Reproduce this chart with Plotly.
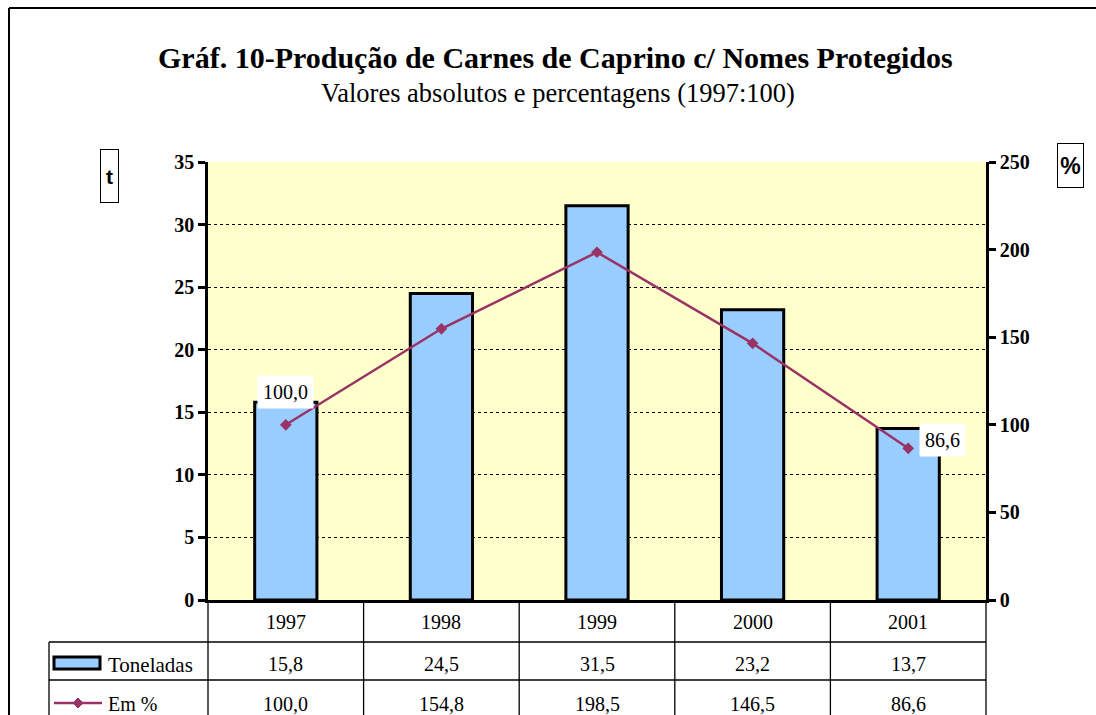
import plotly.graph_objects as go

# ---- data ----
years = ["1997", "1998", "1999", "2000", "2001"]
toneladas = [15.8, 24.5, 31.5, 23.2, 13.7]
em_pct = [100.0, 154.8, 198.5, 146.5, 86.6]
row_labels = ["Toneladas", "Em %"]
title_text = "Gráf. 10-Produção de Carnes de Caprino c/ Nomes Protegidos"
subtitle_text = "Valores absolutos e percentagens (1997:100)"

W, H = 1096, 715
BAR_C = "#99CCFF"
LINE_C = "#993366"
SERIF = "Liberation Serif, Times New Roman, serif"
SANS = "Liberation Sans, Arial, sans-serif"


def fmt(v):
    return f"{v:.1f}".replace(".", ",")


def px(x):
    return x / W


def py(y):
    return 1 - y / H


# plot area pixels
PL, PR, PT, PB = 208, 986, 162, 600

fig = go.Figure()
fig.add_trace(go.Bar(
    x=years, y=toneladas, name=row_labels[0], width=0.4,
    marker=dict(color=BAR_C, line=dict(color="black", width=3)),
    yaxis="y", showlegend=False, hoverinfo="skip",
))
fig.add_trace(go.Scatter(
    x=years, y=em_pct, name=row_labels[1], mode="lines+markers",
    line=dict(color=LINE_C, width=2.5),
    marker=dict(symbol="diamond", size=9, color=LINE_C),
    yaxis="y2", showlegend=False, hoverinfo="skip",
))

shapes = []
annotations = []

# outer chart border (left and top)
shapes.append(dict(type="line", xref="paper", yref="paper", x0=px(9), x1=px(9), y0=py(8), y1=py(H + 5),
                   line=dict(color="black", width=2)))
shapes.append(dict(type="line", xref="paper", yref="paper", x0=px(9), x1=px(W + 5), y0=py(8), y1=py(8),
                   line=dict(color="black", width=2)))

# data table lines
col_w = (PR - PL) / len(years)
for i in range(len(years) + 1):
    xx = PL + i * col_w
    shapes.append(dict(type="line", xref="paper", yref="paper", x0=px(xx), x1=px(xx), y0=py(PB), y1=py(H + 5),
                       line=dict(color="black", width=1.3)))
shapes.append(dict(type="line", xref="paper", yref="paper", x0=px(49), x1=px(49), y0=py(642), y1=py(H + 5),
                   line=dict(color="black", width=1.3)))
for yy in (642, 680):
    shapes.append(dict(type="line", xref="paper", yref="paper", x0=px(49), x1=px(PR), y0=py(yy), y1=py(yy),
                       line=dict(color="black", width=1.3)))

# legend keys in table
shapes.append(dict(type="rect", xref="paper", yref="paper", x0=px(54), x1=px(100), y0=py(669), y1=py(657),
                   fillcolor=BAR_C, line=dict(color="black", width=3)))
shapes.append(dict(type="line", xref="paper", yref="paper", x0=px(54), x1=px(102), y0=py(703), y1=py(703),
                   line=dict(color=LINE_C, width=2.5)))
cx, cy, d = 78, 703, 5
shapes.append(dict(type="path", xref="paper", yref="paper",
                   path=f"M {px(cx - d)} {py(cy)} L {px(cx)} {py(cy - d)} L {px(cx + d)} {py(cy)} L {px(cx)} {py(cy + d)} Z",
                   fillcolor=LINE_C, line=dict(color=LINE_C, width=1)))

# table texts
tfont = dict(family=SERIF, size=20, color="black")
C = dict(showarrow=False, xanchor="center", yanchor="middle")
for i, yr in enumerate(years):
    annotations.append(dict(x=i, xref="x", y=py(622), yref="paper", text=yr, font=tfont, **C))
    annotations.append(dict(x=i, xref="x", y=py(664), yref="paper", text=fmt(toneladas[i]), font=tfont, **C))
    annotations.append(dict(x=i, xref="x", y=py(704), yref="paper", text=fmt(em_pct[i]), font=tfont, **C))
annotations.append(dict(x=px(106), y=py(665), xref="paper", yref="paper", text=row_labels[0], showarrow=False,
                        xanchor="left", yanchor="middle", font=dict(family=SERIF, size=21, color="black")))
annotations.append(dict(x=px(106), y=py(704), xref="paper", yref="paper", text=row_labels[1], showarrow=False,
                        xanchor="left", yanchor="middle", font=dict(family=SERIF, size=20, color="black")))

# data labels for first and last points
annotations.append(dict(x=0, y=em_pct[0], xref="x", yref="y2", text=fmt(em_pct[0]),
                        yshift=33, bgcolor="white", borderpad=5, font=tfont, **C))
annotations.append(dict(x=len(years) - 1, y=em_pct[-1], xref="x", yref="y2", text=fmt(em_pct[-1]),
                        xshift=34, yshift=8, bgcolor="white", borderpad=5, font=tfont, **C))

# titles
annotations.append(dict(x=px(555), y=py(57), xref="paper", yref="paper", text=f"<b>{title_text}</b>",
                        font=dict(family=SERIF, size=30, color="black"), **C))
annotations.append(dict(x=px(558), y=py(93), xref="paper", yref="paper", text=subtitle_text,
                        font=dict(family=SERIF, size=26.5, color="black"), **C))

# unit boxes
annotations.append(dict(x=px(109), y=py(176), xref="paper", yref="paper", text="<b>t</b>",
                        bordercolor="black", borderwidth=1, borderpad=1, width=15, height=50, bgcolor="white",
                        font=dict(family=SANS, size=21, color="black"), **C))
annotations.append(dict(x=px(1070), y=py(165), xref="paper", yref="paper", text="<b>%</b>",
                        bordercolor="black", borderwidth=1, borderpad=1, width=23, height=41, bgcolor="white",
                        font=dict(family=SANS, size=23, color="black"), **C))

tickfont = dict(family=SERIF, size=20, color="black", weight="bold")

fig.update_layout(
    width=W, height=H,
    autosize=False,
    margin=dict(l=0, r=0, t=0, b=0, pad=0, autoexpand=False),
    paper_bgcolor="white",
    plot_bgcolor="#FFFFCC",
    shapes=shapes,
    annotations=annotations,
    xaxis=dict(domain=[px(PL), px(PR)], type="category", range=[-0.5, 4.5], automargin=False,
               showticklabels=False, ticks="", showgrid=False, zeroline=False,
               showline=True, linecolor="black", linewidth=2.5),
    yaxis=dict(domain=[py(PB), py(PT)], range=[0, 35], dtick=5, tick0=0, automargin=False,
               showgrid=True, gridcolor="black", gridwidth=1, griddash="dot", zeroline=False,
               showline=True, linecolor="black", linewidth=2.5,
               ticks="outside", ticklen=7, tickwidth=2.5, tickcolor="black",
               tickfont=tickfont),
    yaxis2=dict(overlaying="y", side="right", anchor="x", range=[0, 250], dtick=50, tick0=0, automargin=False,
                showgrid=False, zeroline=False,
                showline=True, linecolor="black", linewidth=2.5,
                ticks="outside", ticklen=7, tickwidth=2.5, tickcolor="black",
                tickfont=tickfont),
)

fig.write_html("out.html", config={"displayModeBar": False},
               post_script="document.body.style.margin='0px';document.body.style.overflow='hidden';")
